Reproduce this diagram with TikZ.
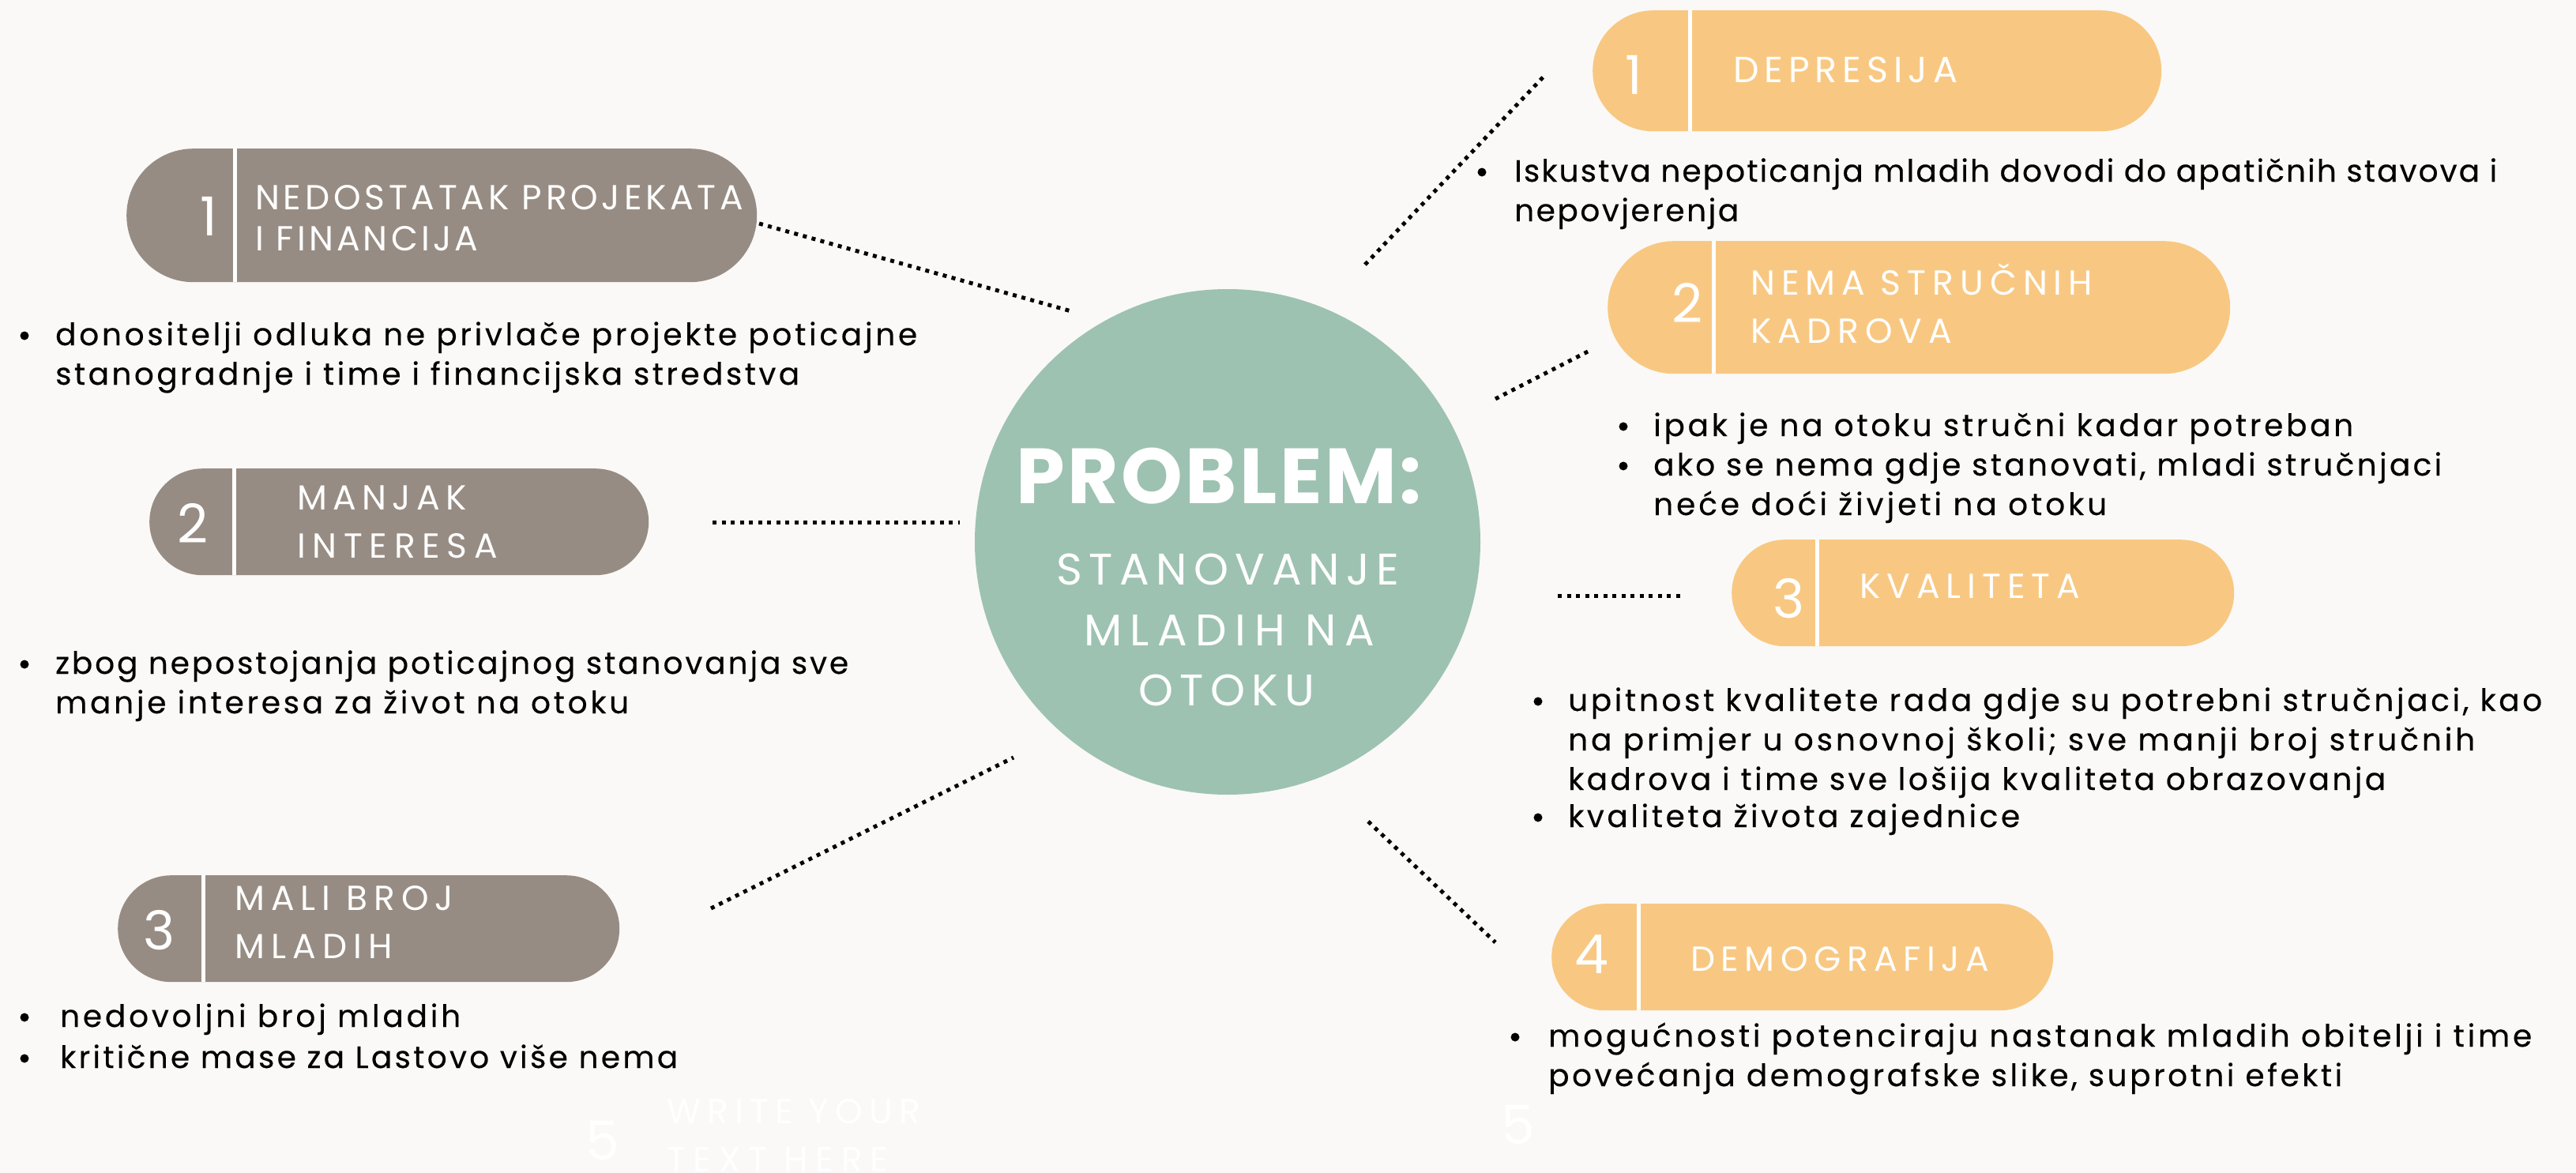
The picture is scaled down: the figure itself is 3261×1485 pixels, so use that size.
\documentclass[tikz,border=0pt]{standalone}
\usepackage{fontspec}
\setmainfont{Poppins}
\newfontfamily\bodyf[FakeBold=0.3]{Poppins}
\newfontfamily\hdrf{Poppins}
\newfontfamily\ctrf{Poppins}
\newfontfamily\numf{Poppins}
\definecolor{bgcol}{RGB}{250,249,247}
\definecolor{greypill}{RGB}{151,140,131}
\definecolor{orangepill}{RGB}{248,200,130}
\definecolor{tealc}{RGB}{157,194,177}
% set a line to a given width (in pt) by adjusting letter spacing
\newcommand\fitline[2]{%
  \setbox0=\hbox{\addfontfeature{LetterSpace=0}#2}%
  \setbox2=\hbox{\addfontfeature{LetterSpace=10}#2}%
  \dimen0=\wd0 \dimen2=\wd2
  \pgfmathsetmacro\fitls{10*(#1-\the\dimen0)/(\the\dimen2-\the\dimen0)}%
  \hbox{\addfontfeature{LetterSpace=\fitls}#2}}
\tikzset{
  pill/.style={rectangle, inner sep=0, anchor=north west, draw=none},
  divider/.style={white, line width=5pt},
  numtxt/.style={font=\numf\fontsize{68}{68}\selectfont, text=white, anchor=base, inner sep=0},
  hdrtxt/.style={font=\hdrf\fontsize{44}{61}\selectfont, text=white, anchor=base west, inner sep=0},
  bodytxt/.style={font=\bodyf\fontsize{39}{50}\selectfont, text=black, anchor=base west, inner sep=0},
  ctrtxt/.style={font=\ctrf\fontsize{56}{56}\selectfont, text=white, anchor=base, inner sep=0},
  bdot/.style={circle, fill=black, minimum size=11pt, inner sep=0},
  dotline/.style={black, line width=5pt, dash pattern=on 5pt off 6.5pt},
}
\begin{document}
\begin{tikzpicture}[x=1pt,y=-1pt]
\useasboundingbox (0,0) rectangle (3261,1485);
\fill[bgcol] (0,0) rectangle (3261,1485);

% central circle
\node[circle, fill=tealc, minimum size=640pt, inner sep=0] (ctr) at (1554,686) {};
\node[font=\bfseries\fontsize{99}{99}\selectfont, text=white, anchor=base, inner sep=0] (t0) at (1543,637) {\fitline{513}{PROBLEM:}};
\node[ctrtxt] (t1) at (1554,740) {\fitline{434}{STANOVANJE}};
\node[ctrtxt] (t2) at (1556,817) {\fitline{368}{MLADIH NA}};
\node[ctrtxt] (t3) at (1553,893) {\fitline{223}{OTOKU}};

% ---------- left pills ----------
\node[pill, fill=greypill, minimum width=798pt, minimum height=169pt, rounded corners=84.5pt] (p1) at (160,188) {};
\draw[divider] (p1.north west) ++(137,0) -- ++(0,169);
\node[numtxt] (n1) at (264,298) {1};
\node[hdrtxt, font=\hdrf\fontsize{44}{52}\selectfont] (h1) at (323,265) {\vtop{\fitline{618}{NEDOSTATAK PROJEKATA}\fitline{282}{I FINANCIJA}}};

\node[pill, fill=greypill, minimum width=632pt, minimum height=135pt, rounded corners=67.5pt] (p2) at (189,593) {};
\draw[divider] (p2.north west) ++(107,0) -- ++(0,135);
\node[numtxt] (n2) at (244,687) {2};
\node[hdrtxt] (h2) at (376,645) {\vtop{\fitline{215}{MANJAK}\fitline{254}{INTERESA}}};

\node[pill, fill=greypill, minimum width=635pt, minimum height=135pt, rounded corners=67.5pt] (p3) at (149,1108) {};
\draw[divider] (p3.north west) ++(108,0) -- ++(0,135);
\node[numtxt] (n3) at (202,1202) {3};
\node[hdrtxt] (h3) at (297,1152) {\vtop{\fitline{277}{MALI BROJ}\fitline{200}{MLADIH}}};

% ---------- right pills ----------
\node[pill, fill=orangepill, minimum width=720pt, minimum height=153pt, rounded corners=76.5pt] (r1) at (2016,13) {};
\draw[divider] (r1.north west) ++(123,0) -- ++(0,153);
\node[numtxt] (m1) at (2068,120) {1};
\node[hdrtxt, font=\hdrf\fontsize{46}{61}\selectfont] (k1) at (2194,105) {\fitline{284}{DEPRESIJA}};

\node[pill, fill=orangepill, minimum width=788pt, minimum height=168pt, rounded corners=84pt] (r2) at (2035,305) {};
\draw[divider] (r2.north west) ++(134,0) -- ++(0,168);
\node[numtxt] (m2) at (2136,408) {2};
\node[hdrtxt] (k2) at (2216,373) {\vtop{\fitline{433}{NEMA STRUČNIH}\fitline{255}{KADROVA}}};

\node[pill, fill=orangepill, minimum width=636pt, minimum height=135pt, rounded corners=67.5pt] (r3) at (2192,683) {};
\draw[divider] (r3.north west) ++(108,0) -- ++(0,135);
\node[numtxt] (m3) at (2264,782) {3};
\node[hdrtxt] (k3) at (2354,757) {\fitline{279}{KVALITETA}};

\node[pill, fill=orangepill, minimum width=635pt, minimum height=135pt, rounded corners=67.5pt] (r4) at (1964,1144) {};
\draw[divider] (r4.north west) ++(110,0) -- ++(0,135);
\node[numtxt] (m4) at (2015,1232) {4};
\node[hdrtxt] (k4) at (2140,1229) {\fitline{378}{DEMOGRAFIJA}};

% ---------- bullet texts ----------
\node[bdot] (d1) at (31,425) {};
\node[bodytxt] (b1) at (70,437) {\vtop{\fitline{1091}{donositelji odluka ne privlače projekte poticajne}\fitline{942}{stanogradnje i time i financijska stredstva}}};
\node[bdot] (d2) at (31,841) {};
\node[bodytxt] (b2) at (70,853) {\vtop{\fitline{1004}{zbog nepostojanja poticajnog stanovanja sve}\fitline{726}{manje interesa za život na otoku}}};
\node[bdot] (d3a) at (31,1288) {};
\node[bodytxt] (b3a) at (76,1300) {\fitline{507}{nedovoljni broj mladih}};
\node[bdot] (d3b) at (31,1340) {};
\node[bodytxt] (b3b) at (76,1352) {\fitline{782}{kritične mase za Lastovo više nema}};

\node[bdot] (e1) at (1876,218) {};
\node[bodytxt] (c1) at (1917,230) {\vtop{\fitline{1244}{Iskustva nepoticanja mladih dovodi do apatičnih stavova i}\fitline{284}{nepovjerenja}}};
\node[bdot] (e2a) at (2055,540) {};
\node[bodytxt] (c2a) at (2093,552) {\fitline{886}{ipak je na otoku stručni kadar potreban}};
\node[bdot] (e2b) at (2055,590) {};
\node[bodytxt] (c2b) at (2093,602) {\vtop{\fitline{998}{ako se nema gdje stanovati, mladi stručnjaci}\fitline{574}{neće doći živjeti na otoku}}};
\node[bdot] (e3a) at (1947,888) {};
\node[bodytxt] (c3a) at (1985,900) {\vtop{\fitline{1233}{upitnost kvalitete rada gdje su potrebni stručnjaci, kao}\fitline{1148}{na primjer u osnovnoj školi; sve manji broj stručnih}\fitline{1035}{kadrova i time sve lošija kvaliteta obrazovanja}}};
\node[bdot] (e3b) at (1947,1035) {};
\node[bodytxt] (c3b) at (1985,1047) {\fitline{572}{kvaliteta života zajednice}};
\node[bdot] (e4) at (1918,1313) {};
\node[bodytxt] (c4) at (1960,1325) {\vtop{\fitline{1245}{mogućnosti potenciraju nastanak mladih obitelji i time}\fitline{1005}{povećanja demografske slike, suprotni efekti}}};

% faint white placeholder texts
\node[numtxt] (w5a) at (763,1468) {5};
\node[hdrtxt] (w5t) at (844,1422) {\vtop{\fitline{321}{WRITE YOUR}\fitline{280}{TEXT HERE}}};
\node[numtxt] (w5b) at (1922,1448) {5};

% ---------- dotted connectors ----------
\coordinate (l1a) at (961,283);  \coordinate (l1b) at (1356,394);
\coordinate (l2a) at (902,661);  \coordinate (l2b) at (1215,661);
\coordinate (l3a) at (900,1150); \coordinate (l3b) at (1283,959);
\coordinate (q1a) at (1728,335); \coordinate (q1b) at (1955,96);
\coordinate (q2a) at (1893,505); \coordinate (q2b) at (2014,443);
\coordinate (q3a) at (1972,754); \coordinate (q3b) at (2132,754);
\coordinate (q4a) at (1732,1040);\coordinate (q4b) at (1893,1193);
\draw[dotline] (l1a) -- (l1b);
\draw[dotline] (l2a) -- (l2b);
\draw[dotline] (l3a) -- (l3b);
\draw[dotline] (q1a) -- (q1b);
\draw[dotline] (q2a) -- (q2b);
\draw[dotline] (q3a) -- (q3b);
\draw[dotline] (q4a) -- (q4b);
\end{tikzpicture}
\end{document}
